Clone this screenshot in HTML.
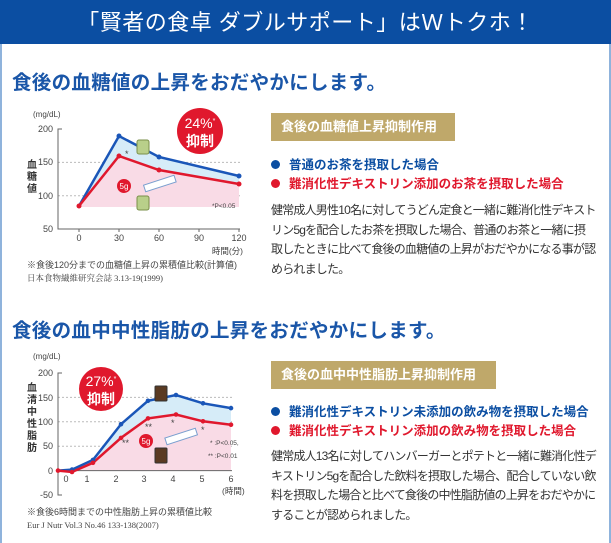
<!DOCTYPE html>
<html><head><meta charset="utf-8"><style>
body{margin:0;width:611px;height:543px;background:#fff;font-family:"Liberation Sans","Noto Sans CJK JP",sans-serif;position:relative;overflow:hidden}
.frame{position:absolute;left:0;top:0;height:543px;border-left:2px solid #8fb3dc;border-right:2px solid #8fb3dc;box-sizing:border-box;width:611px}
.hdr{position:absolute;left:0;top:0;width:611px;height:44px;background:#0b4ea2;color:#fff;font-size:22px;text-align:center;line-height:46px;letter-spacing:0.5px}
.t{position:absolute;left:12px;color:#1a56a8;font-size:19.5px;font-weight:bold;letter-spacing:0.3px}
.box{position:absolute;left:271px;height:28px;background:#bfa86a;color:#fff;font-weight:bold;font-size:13px;line-height:28px;padding-left:10px;box-sizing:border-box}
.b{position:absolute;left:271px;font-size:12.5px;font-weight:bold;white-space:nowrap}
.b span{display:inline-block;width:9px;height:9px;border-radius:50%;margin-right:9px;vertical-align:0px}
.p{position:absolute;left:271px;font-size:12px;line-height:19.6px;color:#333;white-space:nowrap;letter-spacing:-0.8px}
svg{position:absolute;left:0;top:0}
</style></head><body>
<div class="frame"></div>
<div class="hdr">「賢者の食卓 ダブルサポート」はＷトクホ！</div>
<div class="t" style="top:66px">食後の血糖値の上昇をおだやかにします。</div>
<div class="t" style="top:314px">食後の血中中性脂肪の上昇をおだやかにします。</div>

<div class="box" style="top:113px;width:184px">食後の血糖値上昇抑制作用</div>
<div class="b" style="top:154px;color:#0b4ea2"><span style="background:#0b4ea2"></span>普通のお茶を摂取した場合</div>
<div class="b" style="top:173px;color:#e0182d"><span style="background:#e0182d"></span>難消化性デキストリン添加のお茶を摂取した場合</div>
<div class="p" style="top:201px">健常成人男性10名に対してうどん定食と一緒に難消化性デキスト<br>リン5gを配合したお茶を摂取した場合、普通のお茶と一緒に摂<br>取したときに比べて食後の血糖値の上昇がおだやかになる事が認<br>められました。</div>

<div class="box" style="top:361px;width:225px">食後の血中中性脂肪上昇抑制作用</div>
<div class="b" style="top:401px;color:#0b4ea2"><span style="background:#0b4ea2"></span>難消化性デキストリン未添加の飲み物を摂取した場合</div>
<div class="b" style="top:420px;color:#e0182d"><span style="background:#e0182d"></span>難消化性デキストリン添加の飲み物を摂取した場合</div>
<div class="p" style="top:447px">健常成人13名に対してハンバーガーとポテトと一緒に難消化性デ<br>キストリン5gを配合した飲料を摂取した場合、配合していない飲<br>料を摂取した場合と比べて食後の中性脂肪値の上昇をおだやかに<br>することが認められました。</div>

<svg width="611" height="543" font-family="Liberation Sans, Noto Sans CJK JP, sans-serif">
<text x="33" y="117" font-size="8" fill="#444">(mg/dL)</text>
<g font-size="9" fill="#444" text-anchor="end">
<text x="53" y="132">200</text><text x="53" y="165">150</text><text x="53" y="199">100</text><text x="53" y="232">50</text></g>
<g stroke="#bbb" stroke-dasharray="2,2"><line x1="58" y1="162.4" x2="240" y2="162.4"/><line x1="58" y1="195.7" x2="240" y2="195.7"/></g>
<polygon points="79,206 119,136 159,157 239,176 239,184 159,170 119,156" fill="#d6ecf8"/>
<polygon points="79,206 119,156 159,170 239,184 239,207 79,207" fill="#f9dbe6"/>
<path d="M62,129H58V229H240" fill="none" stroke="#666"/>
<g stroke="#666"><line x1="79" y1="229" x2="79" y2="232"/><line x1="119" y1="229" x2="119" y2="232"/><line x1="159" y1="229" x2="159" y2="232"/><line x1="199" y1="229" x2="199" y2="232"/><line x1="239" y1="229" x2="239" y2="232"/></g>
<g font-size="9" fill="#444" text-anchor="middle"><text x="79" y="241">0</text><text x="119" y="241">30</text><text x="159" y="241">60</text><text x="199" y="241">90</text><text x="239" y="241">120</text></g>
<text x="243" y="254" font-size="8.5" fill="#444" text-anchor="end">時間(分)</text>
<g font-size="10" font-weight="bold" fill="#333"><text x="27" y="168">血</text><text x="27" y="180">糖</text><text x="27" y="192">値</text></g>
<polyline points="79,206 119,136 159,157 239,176" fill="none" stroke="#1a56b8" stroke-width="2.5"/>
<polyline points="79,206 119,156 159,170 239,184" fill="none" stroke="#e0182d" stroke-width="2.5"/>
<g fill="#1a56b8"><circle cx="119" cy="136" r="2.5"/><circle cx="159" cy="157" r="2.5"/><circle cx="239" cy="176" r="2.5"/></g>
<g fill="#e0182d"><circle cx="79" cy="206" r="2.5"/><circle cx="119" cy="156" r="2.5"/><circle cx="159" cy="170" r="2.5"/><circle cx="239" cy="184" r="2.5"/></g>
<text x="125" y="157" font-size="9" fill="#444">*</text>
<rect x="137" y="140" width="12" height="14" rx="2" fill="#b9cf8a" stroke="#7a8f4a"/>
<rect x="137" y="196" width="12" height="14" rx="2" fill="#b9cf8a" stroke="#7a8f4a"/>
<rect x="144" y="180" width="32" height="7" fill="#fff" stroke="#7a9fcf" transform="rotate(-18 160 184)"/>
<circle cx="124" cy="186" r="7" fill="#e0182d"/><text x="124" y="189" font-size="8" fill="#fff" text-anchor="middle">5g</text>
<text x="212" y="208" font-size="6.5" fill="#444">*P&lt;0.05</text>
<circle cx="200" cy="131" r="23" fill="#e0182d"/>
<text x="200" y="128" font-size="14" fill="#fff" text-anchor="middle">24%<tspan font-size="7" dy="-5">*</tspan></text>
<text x="200" y="146" font-size="14" fill="#fff" text-anchor="middle" font-weight="bold">抑制</text>
<text x="27" y="268" font-size="9" fill="#444">※食後120分までの血糖値上昇の累積値比較(計算値)</text>
<text x="27" y="281" font-size="8.5" fill="#444" font-family="Liberation Serif, Noto Serif CJK SC, serif">日本食物繊維研究会誌 3.13-19(1999)</text>

<text x="33" y="359" font-size="8" fill="#444">(mg/dL)</text>
<g font-size="9" fill="#444" text-anchor="end">
<text x="53" y="376">200</text><text x="53" y="401">150</text><text x="53" y="425">100</text><text x="53" y="449">50</text><text x="53" y="474">0</text><text x="53" y="498">-50</text></g>
<g stroke="#bbb" stroke-dasharray="2,2"><line x1="58" y1="397.4" x2="232" y2="397.4"/><line x1="58" y1="421.8" x2="232" y2="421.8"/><line x1="58" y1="446.2" x2="232" y2="446.2"/></g>
<polygon points="58,470.6 72,469.6 93,459.9 121,424.2 148,400.8 176,395 203,403.3 231,408.1 231,424.7 203,421.3 176,414.5 148,418.4 121,437.9 93,462.8 72,472" fill="#d6ecf8"/>
<polygon points="58,470.6 72,472 93,462.8 121,437.9 148,418.4 176,414.5 203,421.3 231,424.7 231,470.6" fill="#f9dbe6"/>
<path d="M62,373H58V495H62" fill="none" stroke="#666"/>
<line x1="58" y1="470.6" x2="232" y2="470.6" stroke="#666"/>
<g font-size="9" fill="#444" text-anchor="middle"><text x="66" y="482">0</text><text x="87" y="482">1</text><text x="116" y="482">2</text><text x="144" y="482">3</text><text x="173" y="482">4</text><text x="202" y="482">5</text><text x="231" y="482">6</text></g>
<text x="222" y="494" font-size="8.5" fill="#444">(時間)</text>
<g font-size="10" font-weight="bold" fill="#333"><text x="27" y="391">血</text><text x="27" y="403">清</text><text x="27" y="415">中</text><text x="27" y="427">性</text><text x="27" y="439">脂</text><text x="27" y="451">肪</text></g>
<polyline points="58,470.6 72,469.6 93,459.9 121,424.2 148,400.8 176,395 203,403.3 231,408.1" fill="none" stroke="#1a56b8" stroke-width="2.5"/>
<polyline points="58,470.6 72,472 93,462.8 121,437.9 148,418.4 176,414.5 203,421.3 231,424.7" fill="none" stroke="#e0182d" stroke-width="2.5"/>
<g fill="#1a56b8"><circle cx="72" cy="469.6" r="2.3"/><circle cx="93" cy="459.9" r="2.3"/><circle cx="121" cy="424.2" r="2.3"/><circle cx="148" cy="400.8" r="2.3"/><circle cx="176" cy="395" r="2.3"/><circle cx="203" cy="403.3" r="2.3"/><circle cx="231" cy="408.1" r="2.3"/></g>
<g fill="#e0182d"><circle cx="58" cy="470.6" r="2.3"/><circle cx="72" cy="472" r="2.3"/><circle cx="93" cy="462.8" r="2.3"/><circle cx="121" cy="437.9" r="2.3"/><circle cx="148" cy="418.4" r="2.3"/><circle cx="176" cy="414.5" r="2.3"/><circle cx="203" cy="421.3" r="2.3"/><circle cx="231" cy="424.7" r="2.3"/></g>
<g font-size="9" fill="#444"><text x="122" y="446">**</text><text x="145" y="430">**</text><text x="171" y="426">*</text><text x="201" y="433">*</text>
<text x="210" y="445" font-size="6.5">* :P&lt;0.05,</text><text x="208" y="458" font-size="6.5">** :P&lt;0.01</text></g>
<rect x="155" y="386" width="12" height="15" rx="1" fill="#5a3a22" stroke="#333"/>
<rect x="155" y="448" width="12" height="15" rx="1" fill="#5a3a22" stroke="#333"/>
<rect x="165" y="433" width="32" height="7" fill="#fff" stroke="#7a9fcf" transform="rotate(-18 181 436)"/>
<circle cx="146" cy="441" r="7" fill="#e0182d"/><text x="146" y="444" font-size="8" fill="#fff" text-anchor="middle">5g</text>
<circle cx="101" cy="389" r="22" fill="#e0182d"/>
<text x="101" y="386" font-size="14" fill="#fff" text-anchor="middle">27%<tspan font-size="7" dy="-5">*</tspan></text>
<text x="101" y="404" font-size="14" fill="#fff" text-anchor="middle" font-weight="bold">抑制</text>
<text x="27" y="515" font-size="9" fill="#444">※食後6時間までの中性脂肪上昇の累積値比較</text>
<text x="27" y="528" font-size="8.5" fill="#444" font-family="Liberation Serif, serif">Eur J Nutr Vol.3 No.46 133-138(2007)</text>
</svg>
</body></html>
